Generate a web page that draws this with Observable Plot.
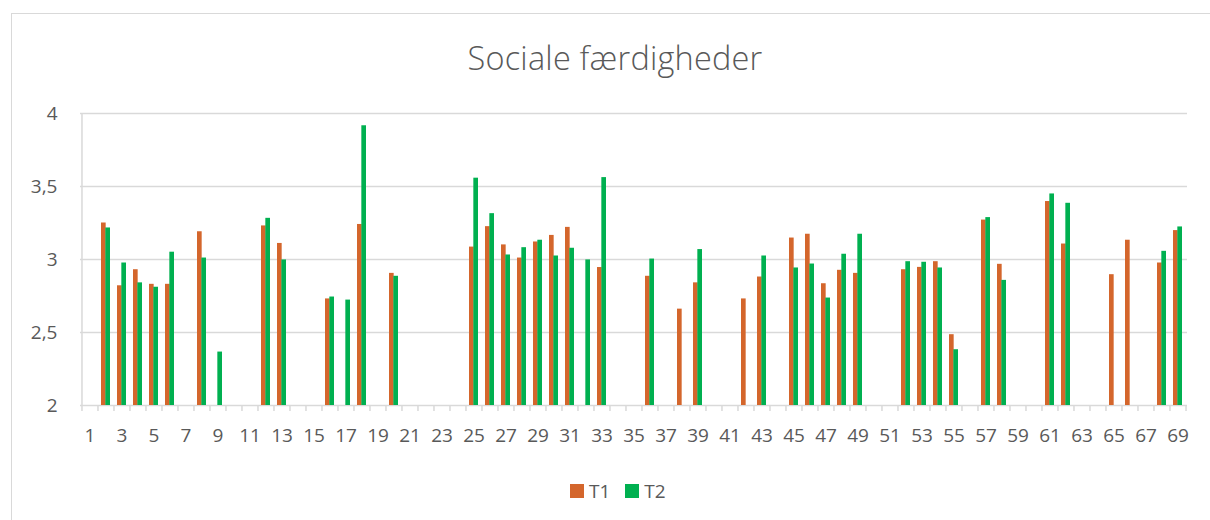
<!DOCTYPE html>
<html>
<head>
<meta charset="utf-8">
<script src="https://cdn.jsdelivr.net/npm/d3@7"></script>
<script src="https://cdn.jsdelivr.net/npm/@observablehq/plot@0.6"></script>
<style>
  html, body { margin: 0; padding: 0; background: #fff; }
  #wrap { position: relative; width: 1210px; height: 520px; overflow: hidden; font-family: "Open Sans", sans-serif; color: #595959; }
  #border { position: absolute; left: 11px; top: 13px; width: 1300px; height: 600px; border-left: 1.5px solid #d9d9d9; border-top: 1.5px solid #d9d9d9; }
  #title { position: absolute; left: 0; width: 1230px; top: 35px; text-align: center; font-size: 32.5px; font-weight: 300; color: #595959; letter-spacing: 0.2px; }
  #chart { position: absolute; left: 0; top: 90px; }
  #legend { position: absolute; left: 570px; top: 478px; display: flex; align-items: center; font-size: 19px; color: #595959; }
  .sw { display: inline-block; width: 14px; height: 14px; margin-right: 5px; }
</style>
</head>
<body>
<div id="wrap">
  <div id="border"></div>
  <div id="title">Sociale færdigheder</div>
  <div id="chart"></div>
  <div id="legend">
    <span class="sw" style="background:#d4662c"></span><span>T1</span>
    <span class="sw" style="background:#00b050;margin-left:15px"></span><span>T2</span>
  </div>
</div>
<script>
// Categories 1..69
const categories = Array.from({length: 69}, (_, i) => i + 1);
// Tick labels shown on the x axis
const xTickLabels = [1,3,5,7,9,11,13,15,17,19,21,23,25,27,29,31,33,35,37,39,41,43,45,47,49,51,53,55,57,59,61,63,65,67,69];
const yTicks = [2, 2.5, 3, 3.5, 4];
const seriesNames = ["T1", "T2"];
const seriesColors = ["#d4662c", "#00b050"];

// Values by category (null = no bar)
const t1 = [
  null, 3.25, 2.82, 2.93, 2.83, 2.83, null, 3.19, null, null,
  null, 3.23, 3.11, null, null, 2.73, null, 3.24, null, 2.905,
  null, null, null, null, 3.085, 3.225, 3.10, 3.01, 3.12, 3.165,
  3.22, null, 2.945, null, null, 2.885, null, 2.66, 2.84, null,
  null, 2.73, 2.88, null, 3.147, 3.173, 2.834, 2.926, 2.905, null,
  null, 2.93, 2.946, 2.985, 2.485, null, 3.27, 2.967, null, null,
  3.397, 3.106, null, null, 2.896, 3.132, null, 2.976, 3.198
];
const t2 = [
  null, 3.216, 2.976, 2.84, 2.81, 3.05, null, 3.01, 2.366, null,
  null, 3.282, 2.997, null, null, 2.743, 2.722, 3.916, null, 2.885,
  null, null, null, null, 3.557, 3.314, 3.031, 3.081, 3.132, 3.024,
  3.077, 2.997, 3.561, null, null, 3.003, null, null, 3.068, null,
  null, null, 3.024, null, 2.942, 2.969, 2.736, 3.036, 3.173, null,
  null, 2.985, 2.981, 2.942, 2.382, null, 3.287, 2.857, null, null,
  3.449, 3.385, null, null, null, null, null, 3.056, 3.223
];

const rowsT1 = categories.map((c, i) => ({cat: c, v: t1[i]})).filter(d => d.v != null);
const rowsT2 = categories.map((c, i) => ({cat: c, v: t2[i]})).filter(d => d.v != null);

const W = 1210, H = 380;
const mL = 80, mR = 23, mT = 23, mB = 65;
const step = (W - mL - mR) / categories.length;
const padInner = 0.46;
const half = step * (1 - padInner) / 2;
const gridColor = "#d9d9d9";
const fmt = d => String(d).replace(".", ",");

const plot = Plot.plot({
  width: W,
  height: H,
  marginLeft: mL,
  marginRight: mR,
  marginTop: mT,
  marginBottom: mB,
  style: {fontFamily: "Open Sans, sans-serif", fontSize: "19px", color: "#595959", background: "transparent"},
  x: {domain: categories, type: "band", paddingInner: padInner, paddingOuter: padInner / 2, axis: null},
  y: {domain: [2, 4], axis: null},
  marks: [
    // horizontal gridlines
    Plot.ruleY(yTicks.slice(1), {stroke: gridColor, strokeWidth: 1.5}),
    // left vertical axis line
    Plot.ruleX([categories[0]], {y1: 2, y2: 4, dx: -step / 2, stroke: gridColor, strokeWidth: 1.5}),
    // bottom axis line
    Plot.ruleY([2], {stroke: gridColor, strokeWidth: 1.5}),
    // category boundary ticks
    Plot.ruleX(categories, {y1: 2, y2: 2, insetBottom: -6, dx: -step / 2, stroke: gridColor, strokeWidth: 1.5}),
    Plot.ruleX([categories[categories.length - 1]], {y1: 2, y2: 2, insetBottom: -6, dx: step / 2, stroke: gridColor, strokeWidth: 1.5}),
    // bars
    Plot.barY(rowsT1, {x: "cat", y1: 2, y2: "v", fill: seriesColors[0], insetRight: half}),
    Plot.barY(rowsT2, {x: "cat", y1: 2, y2: "v", fill: seriesColors[1], insetLeft: half}),
    // axes
    Plot.axisY(yTicks, {tickSize: 0, tickPadding: 23, tickFormat: fmt, fill: "#595959", fontSize: 19, label: null}),
    Plot.axisX(xTickLabels, {tickSize: 0, tickPadding: 23, fill: "#595959", fontSize: 19, label: null})
  ]
});
document.getElementById("chart").appendChild(plot);
</script>
</body>
</html>
